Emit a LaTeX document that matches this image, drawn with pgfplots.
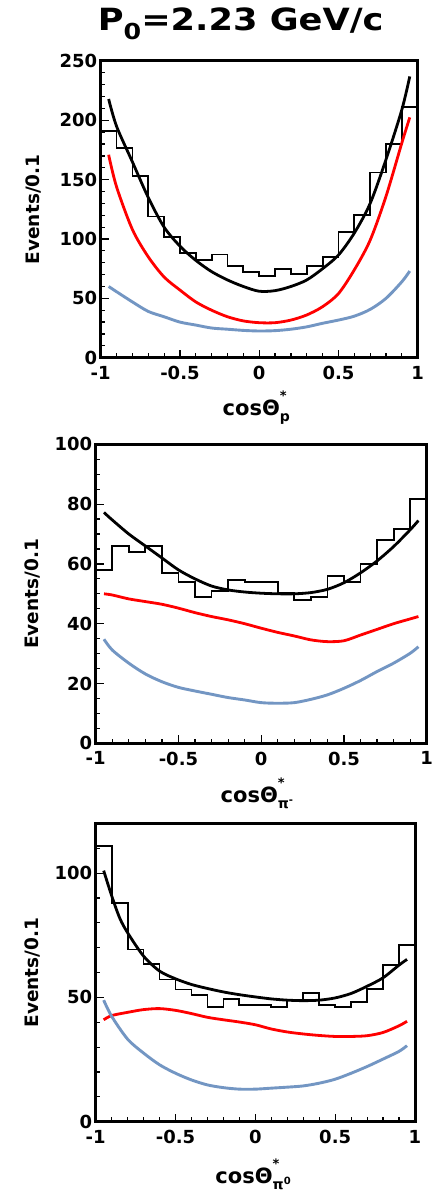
\documentclass[border=0pt]{standalone}
\usepackage{pgfplots}
\pgfplotsset{compat=1.18}
\usepackage{fontspec}
\setmainfont{DejaVu Sans}
\usepackage{graphicx}
\definecolor{myblue}{RGB}{115,150,195}
\definecolor{myred}{RGB}{255,0,0}
\newcommand{\cosl}[1]{cosΘ\rlap{\raisebox{15pt}{\fontsize{13}{13}\selectfont *}}\raisebox{-6pt}{\fontsize{14}{14}\selectfont #1}}
\pgfplotsset{panel/.style={
  scale only axis, anchor=south west,
  xmin=-1, xmax=1,
  xtick={-1,-0.5,0,0.5,1}, xticklabels={-1,-0.5,0,0.5,1},
  minor x tick num=4,
  tick pos=left, tick align=inside,
  major tick length=8pt, minor tick length=4.5pt,
  tick style={black, line width=1.2pt},
  axis line style={line width=3pt},
  tick label style={font=\fontsize{18}{20}\selectfont\bfseries},
  label style={font=\fontsize{21}{24}\selectfont\bfseries},
  xticklabel style={yshift=-5pt},
  /pgf/number format/assume math mode=true,
  ylabel={Events/0.1},
  hist/.style={black, line width=1.8pt, const plot mark left},
  fitk/.style={black, line width=2.8pt, smooth},
  fitr/.style={myred, line width=2.8pt, smooth},
  fitb/.style={myblue, line width=2.9pt, smooth},
}}
\begin{document}
\begin{tikzpicture}
\useasboundingbox (0,0) rectangle (432pt,-1190pt);
% ---------- panel 1
\begin{axis}[panel,
  at={(100.7pt,-357.7pt)}, width=317pt, height=296.7pt,
  ymin=0, ymax=250, ytick={0,50,100,150,200,250}, minor y tick num=4,
  ylabel style={at={([xshift=-61pt]axis description cs:0,0.5)}, anchor=base, font=\fontsize{18.5}{20}\selectfont\bfseries},
  xlabel={\cosl{p}},
  xlabel style={at={([yshift=-57.3pt]axis description cs:0.491,0)}, anchor=base},
  title={\scalebox{1.15}[1]{P\raisebox{-9pt}{\fontsize{22}{22}\selectfont 0}=2.23 GeV/c}},
  title style={at={([yshift=24.3pt]axis description cs:0.4416,1)}, anchor=base, font=\fontsize{30.6}{32}\selectfont\bfseries},
]
\addplot[hist] coordinates {(-1,191) (-0.9,177) (-0.8,153) (-0.7,119) (-0.6,102) (-0.5,88) (-0.4,82) (-0.3,87) (-0.2,77) (-0.1,72.5) (0,69) (0.1,75) (0.2,70.5) (0.3,77) (0.4,85) (0.5,105.6) (0.6,120) (0.7,156) (0.8,180) (0.9,211.5) (1,211.5)};
\addplot[fitk] coordinates {(-0.95,218) (-0.9,195) (-0.8,165) (-0.7,135) (-0.6,110) (-0.5,94) (-0.4,82) (-0.3,72.5) (-0.2,65.5) (-0.1,60) (0,56) (0.1,56.5) (0.2,60) (0.3,65.5) (0.4,75) (0.5,86.5) (0.6,105) (0.7,130) (0.8,167) (0.9,209) (0.95,237)};
\addplot[fitr] coordinates {(-0.95,171) (-0.9,144) (-0.8,108) (-0.7,85) (-0.6,68) (-0.5,57) (-0.4,47) (-0.3,40) (-0.2,34.5) (-0.1,31) (0,29.5) (0.1,29.5) (0.2,31.7) (0.3,36) (0.4,43) (0.5,54) (0.6,74) (0.7,99) (0.8,136) (0.9,181) (0.95,202.5)};
\addplot[fitb] coordinates {(-0.95,60) (-0.9,55.6) (-0.8,47) (-0.7,39) (-0.6,34.5) (-0.5,30) (-0.4,27.5) (-0.3,25) (-0.2,24) (-0.1,23) (0,22.5) (0.1,22.8) (0.2,24) (0.3,26) (0.4,29) (0.5,31.7) (0.6,35) (0.7,40.7) (0.8,50) (0.9,64) (0.95,73)};
\end{axis}
% ---------- panel 2
\begin{axis}[panel,
  at={(95.7pt,-743.3pt)}, width=331pt, height=299pt,
  ymin=0, ymax=100, ytick={0,20,40,60,80,100}, minor y tick num=3,
  ylabel style={at={([xshift=-57.7pt]axis description cs:0,0.5)}, anchor=base, font=\fontsize{18.5}{20}\selectfont\bfseries},
  xlabel={\cosl{π\raisebox{5pt}{\fontsize{10}{10}\selectfont -}}},
  xlabel style={at={([yshift=-58.7pt]axis description cs:0.487,0)}, anchor=base},
]
\addplot[hist] coordinates {(-1,58) (-0.9,66) (-0.8,64) (-0.7,66) (-0.6,57) (-0.5,54) (-0.4,49) (-0.3,51) (-0.2,54.6) (-0.1,54) (0,54) (0.1,50.4) (0.2,48) (0.3,49) (0.4,56) (0.5,54) (0.6,60) (0.7,68) (0.8,71.8) (0.9,81.7) (1,81.7)};
\addplot[fitk] coordinates {(-0.95,77.2) (-0.9,74.7) (-0.8,70) (-0.7,66) (-0.6,62) (-0.5,58) (-0.4,55) (-0.3,52.6) (-0.2,51.3) (-0.1,50.6) (0,50.2) (0.1,50) (0.2,50) (0.3,50.4) (0.4,51.5) (0.5,53.7) (0.6,57) (0.7,61) (0.8,65.8) (0.9,71.4) (0.95,74.5)};
\addplot[fitr] coordinates {(-0.95,50) (-0.9,49.6) (-0.8,48.3) (-0.7,47.4) (-0.6,46.5) (-0.5,45.2) (-0.4,43.7) (-0.3,42.4) (-0.2,41.3) (-0.1,40) (0,38.5) (0.1,37.1) (0.2,35.9) (0.3,34.6) (0.4,34) (0.5,34.3) (0.6,36.2) (0.7,38.1) (0.8,40) (0.9,41.6) (0.95,42.4)};
\addplot[fitb] coordinates {(-0.95,34.8) (-0.9,31.2) (-0.8,26.8) (-0.7,23.2) (-0.6,20.6) (-0.5,18.7) (-0.4,17.5) (-0.3,16.4) (-0.2,15.3) (-0.1,14.5) (0,13.6) (0.1,13.4) (0.2,13.6) (0.3,14.7) (0.4,16.2) (0.5,18.4) (0.6,21) (0.7,24) (0.8,26.8) (0.9,30.1) (0.95,32.3)};
\end{axis}
% ---------- panel 3
\begin{axis}[panel,
  at={(95.7pt,-1121.7pt)}, width=319.3pt, height=298.3pt,
  ymin=0, ymax=120, ytick={0,50,100}, minor ytick={10,20,30,40,60,70,80,90,110},
  ylabel style={at={([xshift=-57.7pt]axis description cs:0,0.5)}, anchor=base, font=\fontsize{18.5}{20}\selectfont\bfseries},
  xlabel={\cosl{π\raisebox{5pt}{\fontsize{10}{10}\selectfont 0}}},
  xlabel style={at={([yshift=-61.3pt]axis description cs:0.493,0)}, anchor=base},
]
\addplot[hist] coordinates {(-1,111) (-0.9,87.9) (-0.8,69.3) (-0.7,63.3) (-0.6,57.2) (-0.5,53.2) (-0.4,51.1) (-0.3,46.2) (-0.2,49.4) (-0.1,47.1) (0,47.1) (0.1,46.2) (0.2,49.1) (0.3,51.8) (0.4,47.1) (0.5,46.2) (0.6,48.2) (0.7,53.4) (0.8,63) (0.9,71) (1,71)};
\addplot[fitk] coordinates {(-0.95,101) (-0.9,90.9) (-0.85,82) (-0.8,76) (-0.7,66.6) (-0.6,60.6) (-0.5,57.5) (-0.4,55.2) (-0.3,53.6) (-0.2,52.2) (-0.1,51.1) (0,50.2) (0.1,49.4) (0.2,48.9) (0.3,48.7) (0.4,48.9) (0.5,49.8) (0.6,51.6) (0.7,54.5) (0.8,57.9) (0.9,63) (0.95,65.3)};
\addplot[fitr] coordinates {(-0.95,41) (-0.9,42.7) (-0.8,44) (-0.7,45.1) (-0.6,45.5) (-0.5,44.8) (-0.4,43.5) (-0.3,42) (-0.2,41) (-0.1,40.1) (0,39) (0.1,37.3) (0.2,36.1) (0.3,35.3) (0.4,34.7) (0.5,34.3) (0.6,34.3) (0.7,34.6) (0.8,35.9) (0.9,38.6) (0.95,40.4)};
\addplot[fitb] coordinates {(-0.95,48.9) (-0.9,42.4) (-0.8,33.2) (-0.7,27.6) (-0.6,22.9) (-0.5,19.5) (-0.4,16.8) (-0.3,14.8) (-0.2,13.7) (-0.1,13.1) (0,13.1) (0.1,13.5) (0.2,13.9) (0.3,14.4) (0.4,15.5) (0.5,17.1) (0.6,19.5) (0.7,22.2) (0.8,25.2) (0.9,28.3) (0.95,30.6)};
\end{axis}
\end{tikzpicture}
\end{document}
